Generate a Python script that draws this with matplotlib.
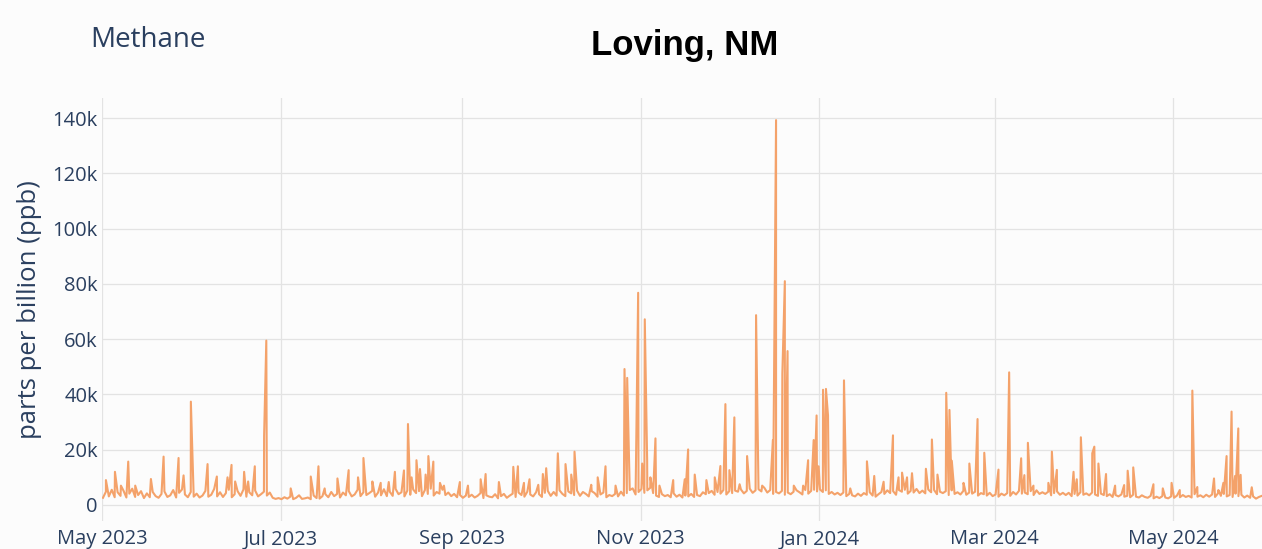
import numpy as np
import pandas as pd
import matplotlib.pyplot as plt
import matplotlib.dates as mdates
from matplotlib.ticker import FuncFormatter

# Methane readings, Loving NM (thousand ppb)
start = pd.Timestamp('2023-05-01')

# daily background level, one row per week starting Mon 1 May 2023
baseline_k = [
    2.6, 4.8, 3.1, 5.5, 2.8, 4.6, 3.3,
    5.2, 2.7, 4.1, 5.9, 2.9, 3.6, 5.0,
    2.5, 4.2, 2.8, 4.7, 3.2, 2.6, 4.0,
    4.9, 2.9, 3.5, 5.4, 2.7, 4.4, 5.6,
    3.8, 2.8, 4.7, 3.0, 4.1, 2.7, 3.4,
    5.1, 3.0, 3.7, 5.8, 3.1, 4.6, 2.9,
    4.3, 5.5, 2.8, 3.9, 5.0, 3.3, 5.6,
    3.0, 4.6, 3.5, 5.2, 3.1, 3.9, 4.8,
    3.4, 4.5, 2.6, 2.2, 2.5, 2.1, 2.8,
    2.3, 3.0, 2.1, 2.6, 3.5, 2.2, 2.4,
    2.7, 2.1, 3.4, 2.5, 2.3, 3.2, 3.9,
    2.8, 4.7, 3.2, 4.0, 2.7, 4.5, 3.5,
    5.0, 3.1, 3.8, 5.5, 3.2, 4.6, 3.6,
    4.3, 5.1, 3.0, 4.5, 3.5, 5.7, 3.2,
    4.8, 3.3, 5.8, 3.9, 4.6, 3.1, 5.2,
    3.7, 5.6, 4.3, 5.0, 3.2, 5.4, 4.0,
    5.9, 3.4, 4.7, 4.1, 5.5, 3.6, 4.5,
    3.2, 4.0, 2.8, 3.6, 2.6, 3.4, 2.9,
    3.7, 2.7, 3.3, 4.3, 2.5, 3.5, 3.0,
    2.8, 3.9, 2.4, 3.2, 4.0, 2.6, 3.4,
    4.1, 2.9, 4.5, 3.6, 3.0, 4.8, 3.8,
    3.1, 4.6, 3.9, 2.9, 4.4, 5.1, 3.3,
    4.7, 3.4, 5.3, 4.0, 3.2, 4.9, 4.2,
    3.6, 5.2, 3.3, 4.7, 4.0, 3.1, 5.0,
    4.3, 3.0, 3.8, 4.5, 2.8, 3.6, 3.2,
    4.0, 3.1, 4.8, 3.4, 4.3, 5.4, 6.0,
    3.8, 4.7, 5.8, 4.4, 5.3, 6.2, 4.3,
    3.4, 2.9, 3.9, 3.2, 3.6, 2.8, 4.2,
    3.0, 3.7, 2.7, 3.4, 3.1, 4.0, 2.9,
    3.6, 3.2, 4.6, 3.9, 4.3, 5.1, 3.7,
    4.7, 4.1, 5.4, 3.8, 5.0, 4.3, 5.2,
    4.8, 5.6, 4.2, 5.1, 5.9, 4.4, 5.3,
    5.7, 4.9, 6.2, 4.5, 5.4, 4.0, 4.7,
    4.2, 5.1, 3.7, 4.5, 3.9, 4.8, 5.3,
    4.6, 3.8, 5.4, 4.1, 5.1, 5.5, 4.9,
    5.6, 4.7, 5.3, 4.0, 4.7, 3.8, 4.4,
    3.6, 4.5, 3.2, 4.0, 3.5, 3.1, 4.1,
    3.3, 4.3, 3.7, 4.6, 3.4, 3.0, 3.9,
    4.7, 4.0, 5.3, 4.3, 5.0, 3.7, 5.4,
    4.8, 5.5, 4.1, 5.1, 4.5, 5.8, 4.3,
    5.2, 4.2, 5.6, 4.6, 5.4, 3.9, 4.8,
    4.3, 5.0, 3.6, 5.3, 4.0, 4.6, 3.8,
    5.1, 3.7, 4.5, 4.1, 4.8, 3.4, 4.3,
    3.9, 3.4, 4.4, 3.2, 3.8, 3.0, 4.1,
    3.5, 4.3, 3.3, 4.7, 3.8, 5.1, 4.1,
    4.5, 3.9, 5.0, 3.6, 5.3, 4.0, 4.6,
    4.0, 4.8, 3.5, 4.3, 4.9, 3.7, 4.4,
    3.6, 4.4, 3.2, 4.0, 3.4, 4.6, 3.7,
    4.2, 3.5, 4.5, 3.8, 3.3, 4.1, 3.6,
    3.2, 3.9, 2.9, 3.6, 3.1, 3.8, 3.0,
    3.3, 2.8, 3.7, 3.0, 2.7, 3.5, 2.9,
    2.6, 3.3, 2.4, 3.0, 2.5, 3.2, 2.7,
    2.4, 3.1, 2.6, 3.4, 2.8, 3.6, 2.9,
    3.3, 2.7, 3.9, 3.0, 3.5, 2.8, 3.7,
    3.0, 3.8, 2.9, 4.2, 3.3, 4.0, 3.1,
    3.6, 2.9, 4.1, 3.2, 3.7, 2.7, 3.4,
    2.6, 3.1, 2.3, 2.9, 3.3,
]

# short spikes: days after 1 May 2023 and peak value (thousand ppb)
spike_day = [
    1.26, 4.34, 6.38, 8.88, 11.27, 16.63, 20.96, 26.08, 27.79, 30.28,
    35.99, 39.16, 42.81, 44.18, 45.41, 48.48, 49.85, 52.13, 55.31, 56.06,
    64.4, 71.25, 73.88, 76.0, 80.37, 84.2, 87.4, 89.25, 92.3, 95.15,
    97.9, 100.0, 103.1, 104.47, 105.7, 107.37, 108.57, 110.5, 111.44, 113.14,
    115.4, 116.76, 122.2, 124.96, 129.3, 131.0, 135.54, 140.46, 142.03, 144.1,
    146.0, 149.0, 150.56, 151.7, 155.68, 158.3, 160.26, 161.38, 167.1, 169.3,
    171.97, 175.4, 178.46, 179.38, 183.13, 184.5, 185.39, 186.2, 187.3, 189.04,
    190.4, 195.1, 199.05, 200.2, 202.46, 206.45, 209.3, 211.23, 212.94, 214.3,
    216.0, 217.8, 220.35, 223.42, 225.5, 229.16, 230.25, 232.4, 233.25, 234.18,
    236.3, 239.5, 241.2, 243.1, 244.1, 244.8, 246.3, 247.3, 248.0, 253.46,
    255.6, 261.3, 263.8, 267.0, 270.2, 272.1, 273.3, 275.0, 276.7, 281.45,
    283.5, 285.4, 288.4, 289.5, 290.3, 294.3, 296.3, 299.1, 301.4, 306.25,
    309.9, 314.0, 315.1, 316.3, 318.2, 323.3, 324.5, 326.2, 331.9, 333.0,
    334.4, 338.3, 339.0, 340.4, 343.0, 346.1, 349.2, 350.4, 352.3, 359.2,
    362.4, 365.4, 368.2, 372.5, 374.2, 379.9, 381.4, 383.1, 384.2, 385.9,
    387.1, 388.2, 389.0, 392.8,
]
spike_k = [
    9.0, 12.0, 7.0, 15.7, 7.0, 9.4, 17.5, 17.0, 10.7, 37.4,
    14.8, 10.3, 10.0, 14.5, 8.5, 12.0, 8.5, 14.0, 25.0, 59.5,
    6.0, 10.3, 14.0, 6.0, 9.6, 12.6, 10.0, 17.0, 8.5, 8.0,
    8.3, 12.0, 12.5, 29.3, 10.0, 16.2, 13.0, 11.0, 17.7, 15.7,
    8.0, 7.0, 8.3, 7.0, 9.3, 11.2, 8.3, 13.8, 14.0, 8.0,
    9.3, 7.3, 11.2, 13.3, 18.7, 14.8, 11.0, 19.3, 7.3, 10.0,
    14.0, 7.0, 49.2, 46.0, 76.8, 15.0, 67.2, 16.0, 10.0, 24.1,
    7.0, 9.0, 9.3, 20.1, 11.0, 9.0, 10.0, 14.1, 36.5, 12.6,
    31.7, 7.5, 17.7, 68.7, 7.0, 23.5, 139.3, 47.6, 81.0, 55.7,
    7.0, 7.0, 16.2, 23.5, 32.4, 14.0, 41.7, 42.0, 32.4, 45.1,
    6.0, 15.8, 10.5, 8.4, 25.2, 10.0, 11.7, 10.0, 11.5, 13.1,
    23.7, 11.0, 40.6, 34.4, 16.0, 8.0, 15.0, 31.1, 18.9, 12.8,
    48.0, 16.9, 10.8, 22.5, 7.0, 8.0, 19.3, 12.7, 12.0, 9.3,
    24.5, 18.7, 21.1, 15.0, 11.2, 7.0, 7.2, 12.4, 13.6, 7.5,
    6.0, 8.0, 5.4, 41.4, 6.5, 9.6, 5.4, 8.0, 17.7, 33.8,
    10.5, 27.7, 10.9, 6.4,
]

base_t = start + pd.to_timedelta(np.arange(len(baseline_k)) + 0.25, unit='D')
spike_t = start + pd.to_timedelta(spike_day, unit='D')
ppb = pd.concat([pd.Series(baseline_k, index=base_t),
                 pd.Series(spike_k, index=spike_t)]).sort_index() * 1000

text_col = '#2a3f5f'
bg = '#fcfcfc'
fig = plt.figure(figsize=(12.62, 5.49), dpi=100, facecolor=bg)
ax = fig.add_axes([102 / 1262, 1 - 521 / 549, 1 - 102 / 1262, 423 / 549])
ax.set_facecolor(bg)

ax.plot(ppb.index, ppb.values, color='#f4a26a', lw=1.5)

ax.set_xlim(start - pd.Timedelta(hours=2), start + pd.Timedelta(days=396.3))
ax.set_ylim(-5800, 147300)
ax.set_yticks(np.arange(0, 140001, 20000))
ax.yaxis.set_major_formatter(FuncFormatter(lambda v, p: '0' if v == 0 else f'{v/1000:.0f}k'))
ax.xaxis.set_major_locator(mdates.MonthLocator(bymonth=[1, 3, 5, 7, 9, 11]))
ax.xaxis.set_major_formatter(mdates.DateFormatter('%b %Y'))

ax.grid(True, color='#e3e3e3', lw=0.9)
ax.set_axisbelow(True)
for sp in ax.spines.values():
    sp.set_visible(False)
ax.tick_params(length=0, labelsize=14.5, labelcolor=text_col)
ax.tick_params(axis='x', pad=6)
ax.tick_params(axis='y', pad=3)
for lab in ax.get_xticklabels() + ax.get_yticklabels():
    lab.set_family('Open Sans')

fig.text(30 / 1262, 1 - 310 / 549, 'parts per billion (ppb)', rotation=90,
         ha='center', va='center', fontsize=18.5, color=text_col, family='Open Sans')
fig.text(90 / 1262, 1 - 40 / 549, 'Methane', ha='left', va='center',
         fontsize=20, color=text_col, family='Open Sans')
fig.text(685 / 1262, 1 - 46 / 549, 'Loving, NM', ha='center', va='center',
         fontsize=25, fontweight='bold', color='black', family='Liberation Sans')

fig.savefig('out.png', dpi=100, facecolor=fig.get_facecolor())
